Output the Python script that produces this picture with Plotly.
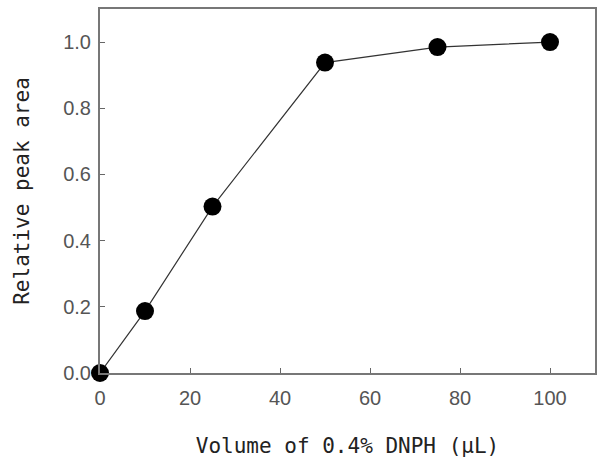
import plotly.graph_objects as go

volume = [0, 10, 25, 50, 75, 100]
rel_area = [0.0, 0.187, 0.503, 0.938, 0.985, 1.0]
x_ticks = [0, 20, 40, 60, 80, 100]
y_ticks = [0.0, 0.2, 0.4, 0.6, 0.8, 1.0]
y_labels = ["0.0", "0.2", "0.4", "0.6", "0.8", "1.0"]

fig = go.Figure()
fig.add_trace(go.Scatter(
    x=volume, y=rel_area, mode="lines+markers",
    line=dict(color="#333333", width=1.2),
    marker=dict(color="black", size=18),
    cliponaxis=False,
))

title_font = "DejaVu Sans Mono"
tick_font = "Liberation Sans"
fig.update_layout(
    width=599, height=459,
    margin=dict(l=100, r=2, t=9, b=86),
    paper_bgcolor="white", plot_bgcolor="white",
    showlegend=False,
    font=dict(family=tick_font, size=20, color="#555555"),
)
fig.update_xaxes(
    range=[0, 110], tickvals=x_ticks, ticks="inside", ticklen=5,
    tickcolor="#666666", showline=True, linecolor="#777777", linewidth=2,
    mirror=True, showgrid=False, zeroline=False, ticklabelstandoff=6,
    title=dict(text="Volume of 0.4% DNPH (μL)", standoff=30,
               font=dict(family=title_font, size=21, color="#222222")),
    tickfont=dict(family=tick_font, size=20, color="#555555"),
)
fig.update_yaxes(
    range=[0, 1.1], tickvals=y_ticks, ticktext=y_labels, ticks="inside", ticklen=5,
    tickcolor="#666666", showline=True, linecolor="#777777", linewidth=2,
    mirror=True, showgrid=False, zeroline=False, ticklabelstandoff=3,
    title=dict(text="Relative peak area", standoff=28,
               font=dict(family=title_font, size=21, color="#222222")),
    tickfont=dict(family=tick_font, size=20, color="#555555"),
)
fig.write_html("out.html")
